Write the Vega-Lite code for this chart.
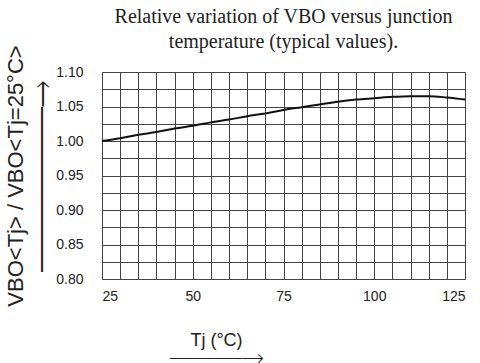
{
  "$schema": "https://vega.github.io/schema/vega-lite/v6.json",
  "width": 363,
  "height": 207,
  "autosize": "none",
  "padding": {"left": 102, "top": 72, "right": 15, "bottom": 84},
  "background": "white",
  "title": {
    "text": ["Relative variation of VBO versus junction", "temperature (typical values)."],
    "font": "Liberation Serif",
    "fontSize": 20,
    "fontWeight": "normal",
    "color": "#222",
    "lineHeight": 25,
    "offset": -7,
    "anchor": "middle"
  },
  "data": {
    "values": [
      {"t": 25, "v": 1.000},
      {"t": 30, "v": 1.004},
      {"t": 35, "v": 1.009},
      {"t": 40, "v": 1.013},
      {"t": 45, "v": 1.018},
      {"t": 50, "v": 1.022},
      {"t": 55, "v": 1.027},
      {"t": 60, "v": 1.031},
      {"t": 65, "v": 1.036},
      {"t": 70, "v": 1.040},
      {"t": 75, "v": 1.045},
      {"t": 80, "v": 1.049},
      {"t": 85, "v": 1.053},
      {"t": 90, "v": 1.057},
      {"t": 95, "v": 1.060},
      {"t": 100, "v": 1.062},
      {"t": 105, "v": 1.064},
      {"t": 110, "v": 1.065},
      {"t": 115, "v": 1.065},
      {"t": 120, "v": 1.063},
      {"t": 125, "v": 1.060}
    ]
  },
  "mark": {"type": "line", "interpolate": "monotone", "color": "#111", "strokeWidth": 2},
  "encoding": {
    "x": {
      "field": "t",
      "type": "quantitative",
      "scale": {"domain": [25, 125], "nice": false, "zero": false},
      "axis": {
        "values": [25, 30, 35, 40, 45, 50, 55, 60, 65, 70, 75, 80, 85, 90, 95, 100, 105, 110, 115, 120, 125],
        "labelExpr": "datum.value % 25 === 0 ? datum.label : ''",
        "grid": true,
        "gridColor": "#444",
        "gridWidth": 1,
        "gridOpacity": 1,
        "ticks": false,
        "domain": false,
        "labelFont": "Liberation Sans",
        "labelFontSize": 14,
        "labelColor": "#222",
        "labelPadding": 10,
        "title": ["Tj (°C)", "⎯⎯⎯⎯⎯⎯⎯⎯⟶"],
        "titleFont": "Liberation Sans",
        "titleFontSize": 18,
        "titleFontWeight": "normal",
        "titleColor": "#222",
        "titleLineHeight": 17,
        "titleAnchor": "start",
        "titleAlign": "center",
        "titleX": 114,
        "titlePadding": 28
      }
    },
    "y": {
      "field": "v",
      "type": "quantitative",
      "scale": {"domain": [0.8, 1.1], "nice": false, "zero": false},
      "axis": {
        "values": [0.8, 0.825, 0.85, 0.875, 0.9, 0.925, 0.95, 0.975, 1.0, 1.025, 1.05, 1.075, 1.1],
        "labelExpr": "abs(datum.value*20 - round(datum.value*20)) < 0.001 ? format(datum.value, '.2f') : ''",
        "grid": true,
        "gridColor": "#444",
        "gridWidth": 1,
        "gridOpacity": 1,
        "ticks": false,
        "domain": false,
        "labelFont": "Liberation Sans",
        "labelFontSize": 14,
        "labelColor": "#222",
        "labelPadding": 19,
        "title": ["VBO<Tj> / VBO<Tj=25°C>", "⎯⎯⎯⎯⎯⎯⎯⎯⎯⎯⎯⎯⎯⎯⎯⟶"],
        "titleFont": "Liberation Sans",
        "titleFontSize": 22,
        "titleFontWeight": "normal",
        "titleColor": "#222",
        "titleLineHeight": 25,
        "titlePadding": 3
      }
    }
  },
  "config": {"view": {"stroke": "#444"}}
}
